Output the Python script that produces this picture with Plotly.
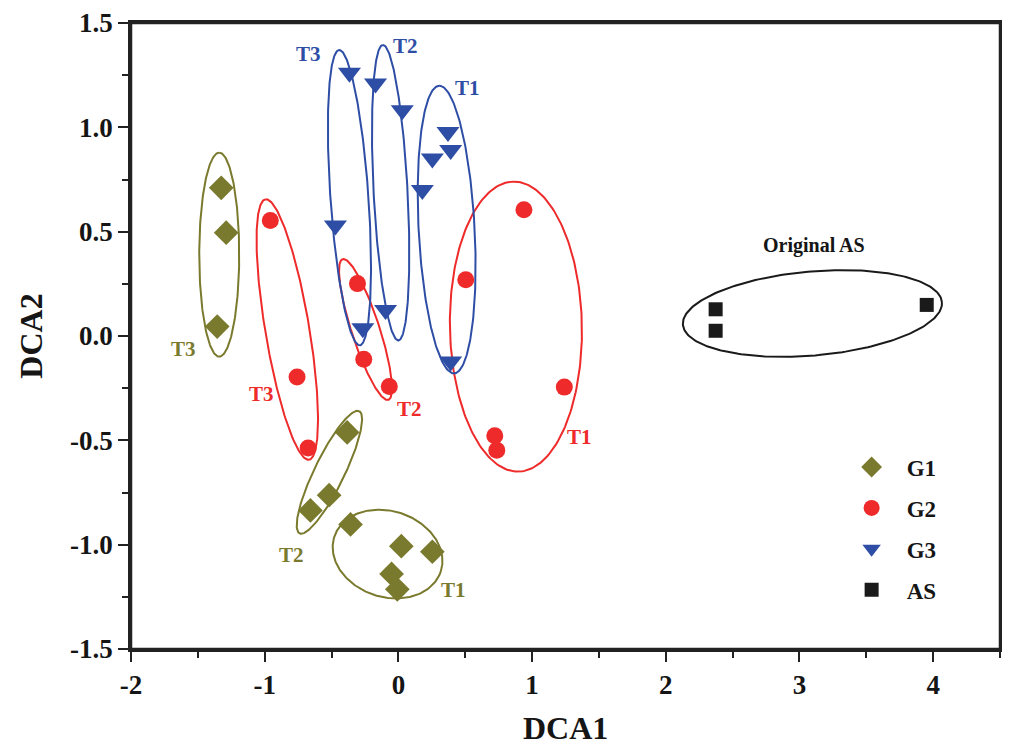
import numpy as np
import plotly.graph_objects as go

# ---------------- data ----------------
g1_x = [-1.325, -1.288, -1.355, -0.383, -0.518, -0.658, -0.358, 0.022, 0.254, -0.051, -0.008]
g1_y = [0.710, 0.495, 0.045, -0.462, -0.763, -0.836, -0.903, -1.007, -1.034, -1.140, -1.214]

g2_x = [-0.958, -0.758, -0.675, -0.306, -0.259, -0.068, 0.939, 0.504, 1.241, 0.721, 0.736]
g2_y = [0.553, -0.197, -0.537, 0.251, -0.111, -0.242, 0.605, 0.270, -0.245, -0.478, -0.548]

g3_x = [-0.366, -0.471, -0.266, -0.171, 0.029, -0.096, 0.371, 0.391, 0.254, 0.179, 0.391]
g3_y = [1.261, 0.529, 0.037, 1.210, 1.082, 0.125, 0.978, 0.891, 0.851, 0.700, -0.122]

as_x = [2.373, 2.373, 3.952]
as_y = [0.128, 0.025, 0.149]

series_names = ["G1", "G2", "G3", "AS"]
colors = {"G1": "#7a7a2e", "G2": "#ee2a2a", "G3": "#2e4ea6", "AS": "#1a1a1a"}

x_tickvals = [-2, -1, 0, 1, 2, 3, 4]
x_ticktext = ["-2", "-1", "0", "1", "2", "3", "4"]
y_tickvals = [-1.5, -1.0, -0.5, 0.0, 0.5, 1.0, 1.5]
y_ticktext = ["-1.5", "-1.0", "-0.5", "0.0", "0.5", "1.0", "1.5"]

# ellipse groups: series, center x, center y, semi-major px, semi-minor px, angle deg (screen, y up)
ellipses = [
    ("G1", -1.340, 0.390, 102, 20, 90),
    ("G1", -0.516, -0.653, 68, 15, 64),
    ("G1", -0.081, -1.045, 56, 43, -18),
    ("G2", -0.831, 0.031, 132, 22, 99.5),
    ("G2", -0.246, 0.031, 74, 14, 108),
    ("G2", 0.879, 0.045, 145, 66, 91),
    ("G3", -0.366, 0.663, 148, 19, 94),
    ("G3", -0.058, 0.687, 148, 17, 93),
    ("G3", 0.361, 0.510, 144, 28, 93),
    ("AS", 3.097, 0.108, 130, 42, 5),
]

# group labels: text, series, x, y
labels = [
    ("T3", "G1", -1.61, -0.06), ("T2", "G1", -0.80, -1.05), ("T1", "G1", 0.414, -1.218),
    ("T3", "G2", -1.025, -0.28), ("T2", "G2", 0.084, -0.352), ("T1", "G2", 1.351, -0.486),
    ("T3", "G3", -0.673, 1.352), ("T2", "G3", 0.054, 1.39), ("T1", "G3", 0.519, 1.189),
]

# ---------------- layout constants ----------------
W, H = 994, 737
ML, MR, MT, MB = 123, 2, 15, 96
XR = [-2, 4.5]
YR = [-1.5, 1.5]
px_per_x = (W - ML - MR) / (XR[1] - XR[0])
px_per_y = (H - MT - MB) / (YR[1] - YR[0])

FONT = "Liberation Serif"
INK = "#151515"

fig = go.Figure()

# ellipses
t = np.linspace(0, 2 * np.pi, 240)
for name, cx, cy, a, b, ang in ellipses:
    th = np.deg2rad(ang)
    ex = a * np.cos(t) * np.cos(th) - b * np.sin(t) * np.sin(th)
    ey = a * np.cos(t) * np.sin(th) + b * np.sin(t) * np.cos(th)
    fig.add_trace(go.Scatter(
        x=cx + ex / px_per_x, y=cy + ey / px_per_y, mode="lines",
        line=dict(color=colors[name], width=2), showlegend=False, hoverinfo="skip"))

marker_syms = {"G1": "diamond", "G2": "circle", "G3": "triangle-down", "AS": "square"}
marker_sizes = {"G1": 19, "G2": 17, "G3": 20, "AS": 14}
data = {"G1": (g1_x, g1_y), "G2": (g2_x, g2_y), "G3": (g3_x, g3_y), "AS": (as_x, as_y)}
for name in series_names:
    xs, ys = data[name]
    fig.add_trace(go.Scatter(
        x=xs, y=ys, mode="markers", name=f"<b>{name}</b>", legendgroup=name,
        marker=dict(symbol=marker_syms[name], size=marker_sizes[name],
                    color=colors[name], line=dict(width=0))))

for text, s, x, y in labels:
    fig.add_annotation(x=x, y=y, text=f"<b>{text}</b>", showarrow=False,
                       font=dict(family=FONT, size=21, color=colors[s]))
fig.add_annotation(x=3.112, y=0.433, text="<b>Original AS</b>", showarrow=False,
                   font=dict(family=FONT, size=20, color=INK))

# x-axis title placed as a paper annotation
fig.add_annotation(x=0.5, y=-(79 / (H - MT - MB)), xref="paper", yref="paper",
                   text="<b>DCA1</b>", showarrow=False, yanchor="middle",
                   font=dict(family=FONT, size=32, color=INK))

# plot frame
fig.add_shape(type="rect", xref="paper", yref="paper", x0=0, y0=0, x1=1, y1=1,
              line=dict(color="#222", width=2.5), layer="above")

axis_common = dict(
    showline=True, linewidth=2.5, linecolor="#222", mirror=True,
    ticks="outside", ticklen=10, tickwidth=2, tickcolor="#222",
    showgrid=False, zeroline=False, ticklabeloverflow="allow",
    tickfont=dict(family=FONT, size=27, color=INK, weight="bold"),
)
fig.update_xaxes(range=XR, tickmode="array", tickvals=x_tickvals, ticktext=x_ticktext,
                 minor=dict(dtick=0.5, tick0=-2, ticks="outside", ticklen=6, tickwidth=2, tickcolor="#222"),
                 **axis_common)
fig.update_yaxes(range=YR, tickmode="array", tickvals=y_tickvals, ticktext=y_ticktext,
                 minor=dict(dtick=0.25, tick0=-1.5, ticks="outside", ticklen=6, tickwidth=2, tickcolor="#222"),
                 title=dict(text="<b>DCA2</b>", font=dict(family=FONT, size=32, color=INK), standoff=18),
                 **axis_common)

fig.update_layout(
    width=W, height=H,
    margin=dict(l=ML, r=MR, t=MT, b=MB, autoexpand=False),
    plot_bgcolor="white", paper_bgcolor="white",
    font=dict(family=FONT),
    legend=dict(x=0.812, y=0.325, xanchor="left", yanchor="top",
                bgcolor="rgba(0,0,0,0)", tracegroupgap=8, itemwidth=60,
                font=dict(family=FONT, size=23, color=INK),
                itemsizing="trace"),
)

fig.write_html("out.html")
